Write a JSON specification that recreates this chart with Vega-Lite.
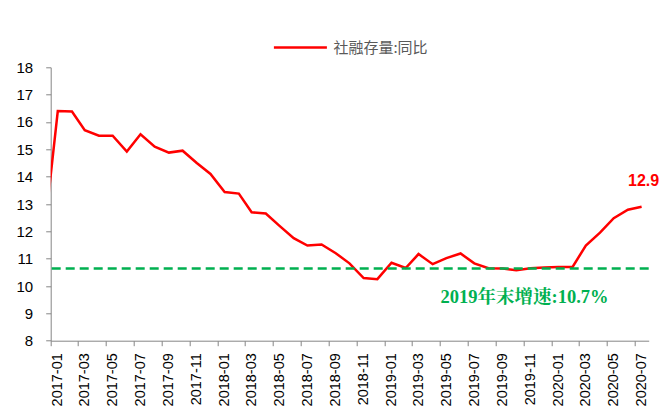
{
  "$schema": "https://vega.github.io/schema/vega-lite/v6.json",
  "autosize": {"type": "none"},
  "width": 598,
  "height": 273.4,
  "padding": {"left": 50.7, "top": 67.3, "right": 16.3, "bottom": 73.3},
  "background": "white",
  "config": {
    "view": {"stroke": null},
    "axis": {"grid": false, "domainColor": "#868686", "tickColor": "#868686", "labelColor": "#000000", "labelFont": "Liberation Sans", "domainWidth": 1, "tickWidth": 1}
  },
  "resolve": {"axis": {"x": "independent", "y": "independent"}},
  "datasets": {
    "main": [
      {"date": "2016-12-01", "value": 11.7, "series": "社融存量:同比"},
      {"date": "2017-01-01", "value": 16.4, "series": "社融存量:同比"},
      {"date": "2017-02-01", "value": 16.38, "series": "社融存量:同比"},
      {"date": "2017-03-01", "value": 15.7, "series": "社融存量:同比"},
      {"date": "2017-04-01", "value": 15.5, "series": "社融存量:同比"},
      {"date": "2017-05-01", "value": 15.5, "series": "社融存量:同比"},
      {"date": "2017-06-01", "value": 14.92, "series": "社融存量:同比"},
      {"date": "2017-07-01", "value": 15.55, "series": "社融存量:同比"},
      {"date": "2017-08-01", "value": 15.1, "series": "社融存量:同比"},
      {"date": "2017-09-01", "value": 14.88, "series": "社融存量:同比"},
      {"date": "2017-10-01", "value": 14.95, "series": "社融存量:同比"},
      {"date": "2017-11-01", "value": 14.5, "series": "社融存量:同比"},
      {"date": "2017-12-01", "value": 14.1, "series": "社融存量:同比"},
      {"date": "2018-01-01", "value": 13.44, "series": "社融存量:同比"},
      {"date": "2018-02-01", "value": 13.38, "series": "社融存量:同比"},
      {"date": "2018-03-01", "value": 12.7, "series": "社融存量:同比"},
      {"date": "2018-04-01", "value": 12.65, "series": "社融存量:同比"},
      {"date": "2018-05-01", "value": 12.2, "series": "社融存量:同比"},
      {"date": "2018-06-01", "value": 11.75, "series": "社融存量:同比"},
      {"date": "2018-07-01", "value": 11.48, "series": "社融存量:同比"},
      {"date": "2018-08-01", "value": 11.52, "series": "社融存量:同比"},
      {"date": "2018-09-01", "value": 11.2, "series": "社融存量:同比"},
      {"date": "2018-10-01", "value": 10.83, "series": "社融存量:同比"},
      {"date": "2018-11-01", "value": 10.29, "series": "社融存量:同比"},
      {"date": "2018-12-01", "value": 10.25, "series": "社融存量:同比"},
      {"date": "2019-01-01", "value": 10.85, "series": "社融存量:同比"},
      {"date": "2019-02-01", "value": 10.66, "series": "社融存量:同比"},
      {"date": "2019-03-01", "value": 11.17, "series": "社融存量:同比"},
      {"date": "2019-04-01", "value": 10.8, "series": "社融存量:同比"},
      {"date": "2019-05-01", "value": 11.02, "series": "社融存量:同比"},
      {"date": "2019-06-01", "value": 11.19, "series": "社融存量:同比"},
      {"date": "2019-07-01", "value": 10.83, "series": "社融存量:同比"},
      {"date": "2019-08-01", "value": 10.65, "series": "社融存量:同比"},
      {"date": "2019-09-01", "value": 10.64, "series": "社融存量:同比"},
      {"date": "2019-10-01", "value": 10.58, "series": "社融存量:同比"},
      {"date": "2019-11-01", "value": 10.65, "series": "社融存量:同比"},
      {"date": "2019-12-01", "value": 10.68, "series": "社融存量:同比"},
      {"date": "2020-01-01", "value": 10.7, "series": "社融存量:同比"},
      {"date": "2020-02-01", "value": 10.7, "series": "社融存量:同比"},
      {"date": "2020-03-01", "value": 11.48, "series": "社融存量:同比"},
      {"date": "2020-04-01", "value": 11.95, "series": "社融存量:同比"},
      {"date": "2020-05-01", "value": 12.48, "series": "社融存量:同比"},
      {"date": "2020-06-01", "value": 12.79, "series": "社融存量:同比"},
      {"date": "2020-07-01", "value": 12.9, "series": "社融存量:同比"}
    ]
  },
  "layer": [
    {
      "data": {"name": "main"},
      "mark": {"type": "line", "strokeWidth": 2.5, "clip": true},
      "encoding": {
        "x": {
          "field": "date", "type": "temporal",
          "scale": {"type": "utc", "domain": [{"year": 2016, "month": 12, "date": 16, "hours": 12, "utc": true}, {"year": 2020, "month": 7, "date": 16, "hours": 12, "utc": true}]},
          "axis": {
            "title": null, "labelExpr": "utcFormat(datum.value, '%Y-%m')", "labelAngle": -90,
            "labelFontSize": 14.5, "labelPadding": 7, "tickSize": 5, "tickOffset": -7, "labelOffset": 7, "labelFlush": false, "labelOverlap": false,
            "values": [
              {"year": 2017, "month": 1, "date": 1, "utc": true}, {"year": 2017, "month": 3, "date": 1, "utc": true},
              {"year": 2017, "month": 5, "date": 1, "utc": true}, {"year": 2017, "month": 7, "date": 1, "utc": true},
              {"year": 2017, "month": 9, "date": 1, "utc": true}, {"year": 2017, "month": 11, "date": 1, "utc": true},
              {"year": 2018, "month": 1, "date": 1, "utc": true}, {"year": 2018, "month": 3, "date": 1, "utc": true},
              {"year": 2018, "month": 5, "date": 1, "utc": true}, {"year": 2018, "month": 7, "date": 1, "utc": true},
              {"year": 2018, "month": 9, "date": 1, "utc": true}, {"year": 2018, "month": 11, "date": 1, "utc": true},
              {"year": 2019, "month": 1, "date": 1, "utc": true}, {"year": 2019, "month": 3, "date": 1, "utc": true},
              {"year": 2019, "month": 5, "date": 1, "utc": true}, {"year": 2019, "month": 7, "date": 1, "utc": true},
              {"year": 2019, "month": 9, "date": 1, "utc": true}, {"year": 2019, "month": 11, "date": 1, "utc": true},
              {"year": 2020, "month": 1, "date": 1, "utc": true}, {"year": 2020, "month": 3, "date": 1, "utc": true},
              {"year": 2020, "month": 5, "date": 1, "utc": true}, {"year": 2020, "month": 7, "date": 1, "utc": true}
            ]
          }
        },
        "y": {
          "field": "value", "type": "quantitative",
          "scale": {"domain": [8, 18], "nice": false, "zero": false},
          "axis": {"title": null, "values": [8, 9, 10, 11, 12, 13, 14, 15, 16, 17, 18], "labelFontSize": 15, "tickSize": 5, "labelPadding": 13}
        },
        "color": {
          "field": "series", "type": "nominal",
          "scale": {"range": ["#FF0000"]},
          "legend": {
            "title": null, "orient": "none", "legendX": 221.7, "legendY": -47.8, "padding": 0,
            "symbolType": "stroke", "symbolSize": 2809, "symbolStrokeWidth": 2.5, "labelOffset": 5,
            "labelFont": "Noto Sans CJK SC", "labelFontSize": 15, "labelColor": "#595959"
          }
        }
      }
    },
    {
      "data": {"values": [{"ref": 10.64}]},
      "mark": {"type": "rule", "color": "#00B050", "strokeWidth": 2.5, "strokeDash": [9, 5]},
      "encoding": {"y": {"field": "ref", "type": "quantitative", "axis": null}}
    },
    {
      "data": {"values": [{"date": "2020-07-01", "value": 12.9, "label": "12.9"}]},
      "mark": {"type": "text", "color": "#FF0000", "font": "Liberation Sans", "fontWeight": "bold", "fontSize": 16, "dy": -26, "dx": 2},
      "encoding": {
        "x": {"field": "date", "type": "temporal", "axis": null},
        "y": {"field": "value", "type": "quantitative", "axis": null},
        "text": {"field": "label"}
      }
    },
    {
      "data": {"values": [{"date": "2019-10-19", "value": 9.6, "label": "2019年末增速:10.7%"}]},
      "mark": {"type": "text", "color": "#00B050", "font": "Liberation Serif, Noto Serif CJK SC, Noto Sans CJK SC", "fontWeight": "bold", "fontSize": 18.5},
      "encoding": {
        "x": {"field": "date", "type": "temporal", "axis": null},
        "y": {"field": "value", "type": "quantitative", "axis": null},
        "text": {"field": "label"}
      }
    }
  ]
}
